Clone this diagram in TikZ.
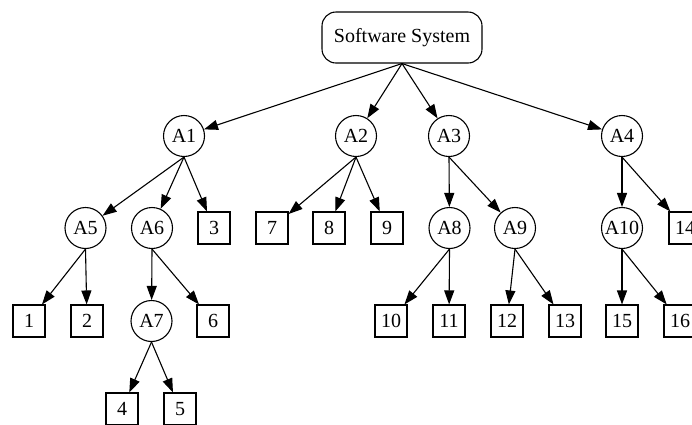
\documentclass[tikz,border=0pt]{standalone}
\usepackage{fontspec}
\setmainfont{Liberation Serif}
\usetikzlibrary{arrows.meta}
\begin{document}
\begin{tikzpicture}[x=1pt, y=-1pt, >={Triangle[length=14pt, width=10pt]}, line width=1.1pt,
  every node/.style={font=\fontsize{20}{24}\selectfont, inner sep=0pt},
  grp/.style={draw, circle, minimum size=41pt},
  leaf/.style={draw, minimum width=32pt, minimum height=32pt}]
 \useasboundingbox (0,0) rectangle (692,424);
 \node[draw, rounded corners=14pt, minimum width=160pt, minimum height=51pt] (sys) at (402,37.5) {Software System};
 % first level
 \node[grp] (A1) at (184,136) {A1};
 \node[grp] (A2) at (356,136) {A2};
 \node[grp] (A3) at (449,136) {A3};
 \node[grp] (A4) at (622,136) {A4};
 % second level
 \node[grp] (A5) at (85.5,228) {A5};
 \node[grp] (A6) at (152,228) {A6};
 \node[leaf] (n3) at (214,228) {3};
 \node[leaf] (n7) at (272,228) {7};
 \node[leaf] (n8) at (329,228) {8};
 \node[leaf] (n9) at (387,228) {9};
 \node[grp] (A8) at (449.5,228) {A8};
 \node[grp] (A9) at (515,228) {A9};
 \node[grp] (A10) at (622,228) {A10};
 \node[leaf] (n14) at (685,228) {14};
 % third level
 \node[leaf] (n1) at (29,321) {1};
 \node[leaf] (n2) at (87,321) {2};
 \node[grp] (A7) at (151.5,321) {A7};
 \node[leaf] (n6) at (213,321) {6};
 \node[leaf] (n10) at (391,321) {10};
 \node[leaf] (n11) at (449,321) {11};
 \node[leaf] (n12) at (507,321) {12};
 \node[leaf] (n13) at (565,321) {13};
 \node[leaf] (n15) at (622,321) {15};
 \node[leaf] (n16) at (680,321) {16};
 % fourth level
 \node[leaf] (n4) at (122,409) {4};
 \node[leaf] (n5) at (180,409) {5};

 \draw[->](sys.south)--(A1); \draw[->](sys.south)--(A2);
 \draw[->](sys.south)--(A3); \draw[->](sys.south)--(A4);
 \draw[->](A1.south)--(A5); \draw[->](A1.south)--(A6); \draw[->](A1.south)--(n3);
 \draw[->](A2.south)--(n7); \draw[->](A2.south)--(n8); \draw[->](A2.south)--(n9);
 \draw[->](A3.south)--(A8); \draw[->](A3.south)--(A9);
 \draw[->](A4.south)--(A10); \draw[->](A4.south)--(n14);
 \draw[->](A5.south)--(n1); \draw[->](A5.south)--(n2);
 \draw[->](A6.south)--(A7); \draw[->](A6.south)--(n6);
 \draw[->](A7.south)--(n4); \draw[->](A7.south)--(n5);
 \draw[->](A8.south)--(n10); \draw[->](A8.south)--(n11);
 \draw[->](A9.south)--(n12); \draw[->](A9.south)--(n13);
 \draw[->](A10.south)--(n15); \draw[->](A10.south)--(n16);
\end{tikzpicture}
\end{document}
